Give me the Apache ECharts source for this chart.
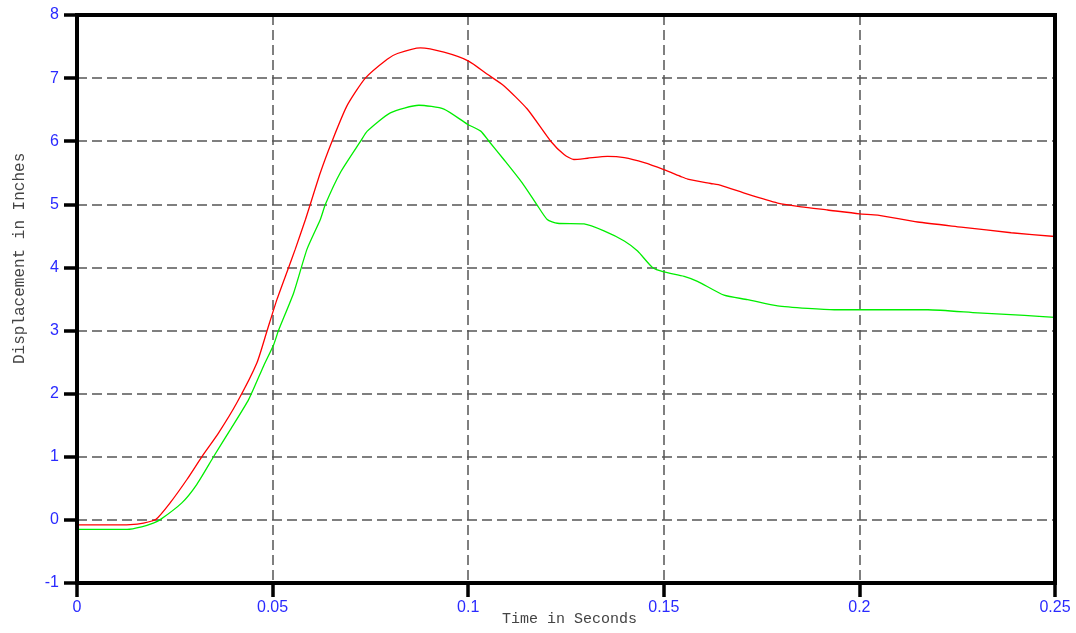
<!DOCTYPE html>
<html>
<head>
<meta charset="utf-8">
<script src="https://cdn.jsdelivr.net/npm/echarts@6/dist/echarts.min.js"></script>
<style>html,body{margin:0;padding:0;background:#fff}#c{width:1076px;height:633px}</style>
</head>
<body>
<div id="c"></div>
<script>
// Red curve
const redT = [0, 0.008, 0.0136, 0.017, 0.0202, 0.0238, 0.0281, 0.0319, 0.0362, 0.0409, 0.046, 0.0486, 0.0511, 0.0541, 0.0558, 0.0584, 0.0622, 0.0652, 0.069, 0.0737, 0.0793, 0.0819, 0.0878, 0.0938, 0.1001, 0.1049, 0.1091, 0.1151, 0.1211, 0.1245, 0.127, 0.1305, 0.1356, 0.1399, 0.145, 0.15, 0.1544, 0.1561, 0.162, 0.1646, 0.1714, 0.1791, 0.1851, 0.1919, 0.2, 0.2047, 0.2149, 0.226, 0.2388, 0.25];
const redY = [-0.08, -0.08, -0.075, -0.05, 0.01, 0.27, 0.64, 1.0, 1.38, 1.86, 2.49, 3.0, 3.49, 4.0, 4.29, 4.76, 5.5, 6.0, 6.56, 7.0, 7.30, 7.39, 7.48, 7.41, 7.27, 7.06, 6.88, 6.51, 6.0, 5.79, 5.71, 5.73, 5.76, 5.74, 5.66, 5.55, 5.44, 5.40, 5.33, 5.30, 5.16, 5.02, 4.96, 4.91, 4.85, 4.83, 4.72, 4.64, 4.55, 4.49];
// Green curve
const greenT = [0, 0.0128, 0.0165, 0.0195, 0.0212, 0.0268, 0.0306, 0.0349, 0.0392, 0.0439, 0.0477, 0.0503, 0.0515, 0.0554, 0.0588, 0.0622, 0.0635, 0.0673, 0.0725, 0.0742, 0.0801, 0.0874, 0.0938, 0.0998, 0.1032, 0.1053, 0.1091, 0.1138, 0.1175, 0.1202, 0.1228, 0.1296, 0.1347, 0.1399, 0.1433, 0.1471, 0.15, 0.1552, 0.1586, 0.1654, 0.1714, 0.1791, 0.1868, 0.1936, 0.2, 0.2175, 0.2303, 0.2422, 0.25];
const greenY = [-0.15, -0.15, -0.11, -0.05, 0.0, 0.27, 0.56, 1.0, 1.43, 1.91, 2.44, 2.78, 3.0, 3.6, 4.29, 4.76, 5.0, 5.5, 6.0, 6.16, 6.45, 6.57, 6.51, 6.27, 6.16, 6.0, 5.71, 5.34, 5.0, 4.76, 4.70, 4.69, 4.58, 4.42, 4.26, 4.0, 3.93, 3.86, 3.78, 3.56, 3.49, 3.39, 3.35, 3.33, 3.33, 3.33, 3.28, 3.24, 3.21];

const xTicks = [0, 0.05, 0.1, 0.15, 0.2, 0.25];
const yTicks = [-1, 0, 1, 2, 3, 4, 5, 6, 7, 8];
const xTitle = 'Time in Seconds';
const yTitle = 'Displacement in Inches';

const pairs = (t, y) => t.map((v, i) => [v, y[i]]);

const chart = echarts.init(document.getElementById('c'), null, {renderer: 'canvas'});
const labelStyle = {color: '#2a2aff', fontFamily: 'Arial, "Liberation Sans", sans-serif', fontSize: 16};
const split = {show: true, showMinLine: false, showMaxLine: false, lineStyle: {color: '#555', width: 1.5, type: [10, 5]}};
chart.setOption({
  animation: false,
  backgroundColor: '#fff',
  grid: {left: 77, top: 15, right: 21, bottom: 50, show: true, borderColor: '#000', borderWidth: 4, backgroundColor: 'transparent', z: 5},
  xAxis: {
    type: 'value', min: xTicks[0], max: xTicks[xTicks.length - 1], interval: 0.05,
    axisLine: {show: true, onZero: false, lineStyle: {color: '#000', width: 4}},
    axisTick: {show: true, length: 14, lineStyle: {color: '#000', width: 3.5}},
    axisLabel: Object.assign({margin: 17, formatter: v => String(+(+v).toFixed(2))}, labelStyle),
    splitLine: split
  },
  yAxis: {
    type: 'value', min: yTicks[0], max: yTicks[yTicks.length - 1], interval: 1,
    axisLine: {show: true, onZero: false, lineStyle: {color: '#000', width: 4}},
    axisTick: {show: true, length: 13, lineStyle: {color: '#000', width: 3.5}},
    axisLabel: Object.assign({margin: 18}, labelStyle),
    splitLine: split
  },
  graphic: [
    {type: 'text', left: 502, top: 612, style: {text: xTitle, fill: '#444', font: '15px "Liberation Mono", "Courier New", monospace'}},
    {type: 'text', x: 12, y: 364, rotation: Math.PI / 2, style: {text: yTitle, fill: '#444', font: '16px "Liberation Mono", "Courier New", monospace', textAlign: 'left', textVerticalAlign: 'top'}}
  ],
  series: [
    {type: 'line', data: pairs(redT, redY), showSymbol: false, smooth: 0.2, lineStyle: {color: '#ff0000', width: 1.3}, z: 3},
    {type: 'line', data: pairs(greenT, greenY), showSymbol: false, smooth: 0.2, lineStyle: {color: '#00ee00', width: 1.3}, z: 3}
  ]
});
</script>
</body>
</html>
